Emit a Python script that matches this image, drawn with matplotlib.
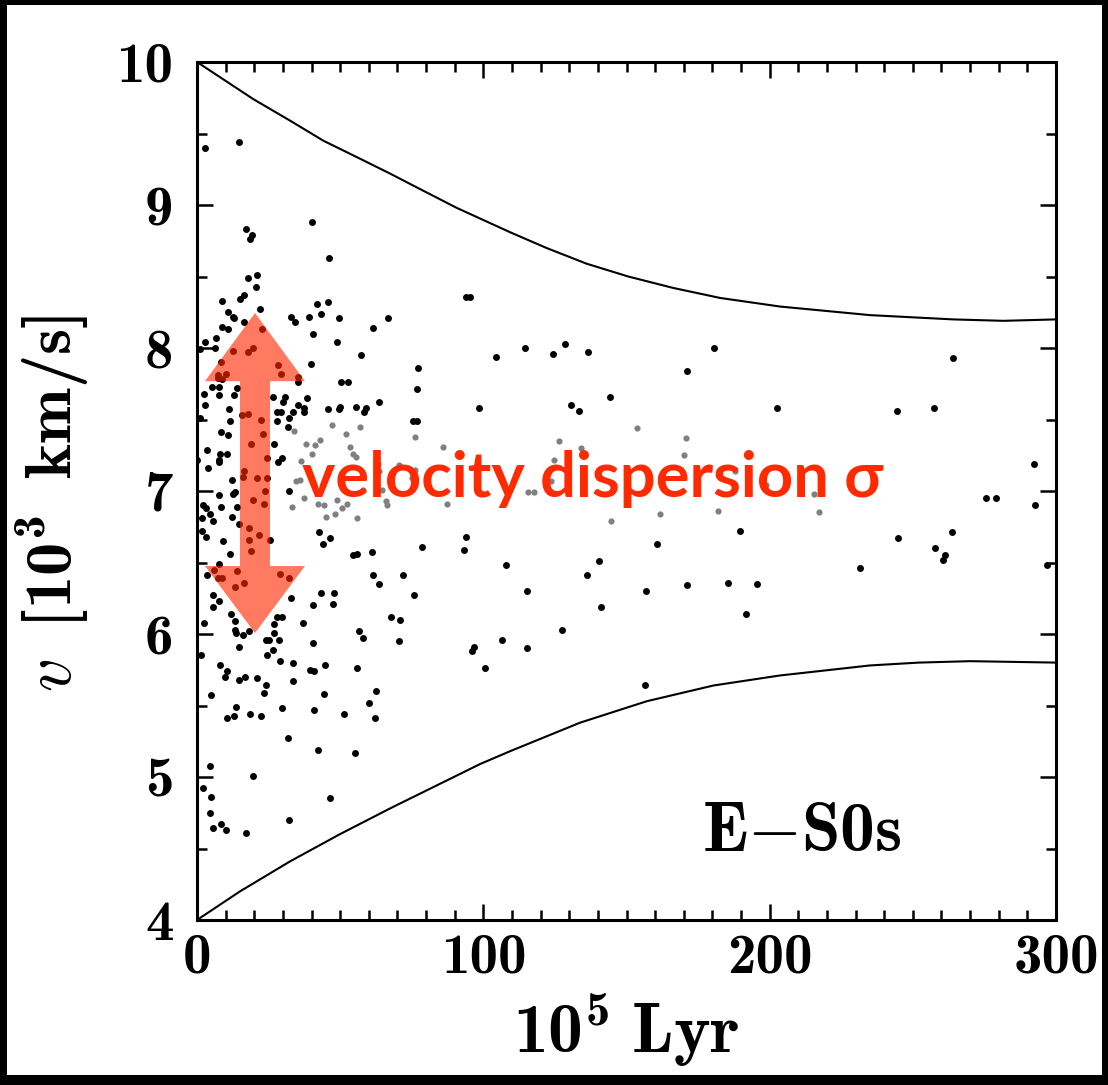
import matplotlib
matplotlib.use("Agg")
import matplotlib.pyplot as plt
from matplotlib.patches import Polygon, Rectangle
from matplotlib.ticker import MultipleLocator, FixedFormatter, FixedLocator

plt.rcParams['font.family'] = 'cmb10'
plt.rcParams['mathtext.fontset'] = 'custom'
plt.rcParams['mathtext.rm'] = 'cmb10'
plt.rcParams['mathtext.bf'] = 'cmb10'
plt.rcParams['mathtext.it'] = 'cmmi10'
plt.rcParams['mathtext.fallback'] = 'cm'
plt.rcParams['axes.unicode_minus'] = False

# ---------------- data ----------------
upper_x = [0, 19.7, 32.5, 44.1, 55.8, 67.4, 79.0, 90.7, 109.3, 122, 136, 150.6, 166.3,
           182.7, 203.6, 235, 254.3, 264.1, 281.6, 300]
upper_v = [10.0, 9.74, 9.59, 9.45, 9.335, 9.22, 9.10, 8.98, 8.81, 8.70, 8.59, 8.50, 8.42,
           8.35, 8.29, 8.23, 8.21, 8.20, 8.19, 8.20]

lower_x = [0, 15.0, 32.5, 49.9, 67.4, 90.7, 98.8, 109.3, 133.8, 157.1, 180.4, 203.6,
           235, 252, 270, 300]
lower_v = [4.0, 4.20, 4.41, 4.60, 4.78, 5.01, 5.09, 5.18, 5.38, 5.53, 5.64, 5.71,
           5.78, 5.80, 5.81, 5.80]

black_x = [2.7, 14.7, 40.0, 17.0, 19.1, 18.6, 46.1, 17.8, 21.1, 20.7, 16.5, 15.0, 8.7, 22.0,
           10.7, 12.5, 13.0, 8.7, 10.8, 16.3, 22.6, 2.9, 6.5, 6.3, 1.0, 12.5, 17.9, 19.7, 8.4,
           28.2, 29.2, 35.4, 35.4, 10.0, 7.5, 7.2, 8.6, 5.2, 7.8, 2.4, 7.7, 13.0, 13.9, 2.8,
           11.1, 11.5, 1.0, 15.8, 17.9, 22.4, 26.4, 30.7, 30.2, 35.2, 37.3, 37.3, 38.4, 28.1,
           29.2, 33.7, 32.0, 28.1, 31.8, 32.7, 34.3, 39.1, 41.8, 43.3, 45.8, 49.5, 40.4, 48.8,
           61.5, 66.6, 57.3, 39.8, 50.4, 52.7, 77.3, 76.8, 63.5, 45.8, 49.8, 49.6, 55.4, 59.0,
           58.4, 75.3, 76.7, 94.0, 95.3, 104.5, 98.4,
           8.4, 10.7, 23.1, 18.7, 26.8, 3.4, 8.0, 10.5, 7.8, 7.8, 0.0, 3.7, 24.3, 28.2, 29.6,
           12.2, 16.4, 16.2, 20.8, 24.4, 23.7, 13.3, 12.7, 7.8, 32.2, 19.7, 23.4, 2.2, 3.1,
           8.4, 13.9, 4.5, 1.6, 5.7, 12.2, 14.8, 18.0, 21.5, 18.0, 19.0, 25.5, 1.6, 3.0, 9.2,
           11.6, 7.8, 5.9, 7.5, 8.6, 3.6, 14.0, 16.5, 13.2, 29.0, 32.1, 5.6, 7.7, 5.7, 11.9,
           13.2, 13.3, 13.5, 16.0, 18.3, 2.4, 14.6, 1.5, 26.9, 28.0, 29.8, 27.0, 24.1, 25.1,
           28.6, 26.4, 24.4, 33.0, 36.9, 40.4, 43.3, 47.7, 40.6, 47.4,
           42.7, 43.9, 46.4, 54.6, 56.0, 61.2, 61.4, 63.7, 72.1, 75.7, 78.5, 93.9, 93.2, 107.9,
           67.9, 70.9, 70.7, 56.7, 57.9, 95.9, 96.7, 106.4, 100.6, 62.5, 44.5, 44.6, 55.9,
           33.6, 33.6, 29.0, 39.5, 41.0, 23.4, 24.2, 4.9, 8.1, 10.6, 9.8, 14.8, 16.8, 21.1,
           13.6, 10.6, 13.0, 18.5, 22.4, 29.6, 40.8, 51.2, 60.0, 62.1, 31.7, 42.4, 55.1, 4.7,
           19.7, 2.2, 4.9, 46.4, 4.7, 8.3, 5.6, 10.0, 17.0, 32.2,
           114.6, 124.3, 128.6, 136.7, 180.6, 171.0, 144.1, 130.5, 133.3, 202.4, 189.8, 160.7,
           140.4, 136.2, 115.2, 156.7, 171.0, 185.3, 195.5, 141.0, 191.7, 127.4,
           264.0, 244.5, 257.4, 292.4, 275.6, 279.0, 292.6, 263.6, 244.8, 257.6, 261.2, 260.4,
           231.7, 297.0, 115.2, 156.3]
black_v = [9.40, 9.44, 8.88, 8.83, 8.79, 8.76, 8.63, 8.49, 8.51, 8.43, 8.37, 8.34, 8.33, 8.27,
           8.25, 8.22, 8.21, 8.15, 8.13, 8.18, 8.13, 8.04, 8.07, 8.00, 7.99, 7.98, 7.97, 8.00, 7.90,
           7.88, 7.82, 7.80, 7.76, 7.82, 7.81, 7.79, 7.78, 7.73, 7.73, 7.68, 7.67, 7.67, 7.72, 7.60,
           7.57, 7.49, 7.51, 7.53, 7.54, 7.50, 7.66, 7.66, 7.62, 7.60, 7.58, 7.55, 7.65, 7.55,
           7.55, 7.55, 7.51, 7.49, 7.45, 8.22, 8.18, 8.22, 8.31, 8.24, 8.32, 8.21, 8.10, 8.04,
           8.14, 8.21, 7.95, 7.89, 7.76, 7.76, 7.86, 7.71, 7.62, 7.57, 7.59, 7.57, 7.59, 7.58,
           7.55, 7.49, 7.49, 8.36, 8.36, 7.94, 7.58,
           7.41, 7.39, 7.40, 7.33, 7.33, 7.29, 7.26, 7.26, 7.22, 7.20, 7.22, 7.16, 7.23, 7.20, 7.23,
           7.08, 7.14, 7.10, 7.09, 7.09, 7.00, 6.99, 6.98, 6.97, 7.00, 6.94, 6.91, 6.90, 6.88,
           6.89, 6.89, 6.84, 6.81, 6.79, 6.82, 6.77, 6.74, 6.69, 6.66, 6.58, 6.66, 6.72, 6.68, 6.65,
           6.56, 6.49, 6.45, 6.39, 6.39, 6.41, 6.44, 6.36, 6.33, 6.42, 6.39, 6.27, 6.23, 6.19, 6.14,
           6.09, 6.03, 6.01, 5.99, 6.02, 6.08, 5.91, 5.85, 6.07, 6.12, 6.12, 6.01, 5.96, 5.96,
           5.96, 5.89, 5.85, 6.25, 6.08, 5.94, 6.29, 6.29, 6.20, 6.21,
           6.71, 6.63, 6.67, 6.55, 6.56, 6.57, 6.41, 6.35, 6.41, 6.27, 6.61, 6.68, 6.59, 6.48,
           6.12, 6.10, 5.95, 6.02, 5.97, 5.88, 5.91, 5.96, 5.76, 5.60, 5.58, 5.78, 5.76,
           5.67, 5.80, 5.81, 5.75, 5.74, 5.59, 5.64, 5.57, 5.78, 5.74, 5.70, 5.68, 5.70, 5.69,
           5.49, 5.41, 5.43, 5.44, 5.43, 5.48, 5.47, 5.44, 5.52, 5.41, 5.27, 5.19, 5.17, 5.08,
           5.01, 4.92, 4.86, 4.85, 4.75, 4.67, 4.64, 4.63, 4.61, 4.70,
           8.00, 7.96, 8.03, 7.97, 8.00, 7.84, 7.66, 7.60, 7.56, 7.58, 6.72, 6.63,
           6.51, 6.41, 6.30, 6.30, 6.34, 6.36, 6.35, 6.19, 6.14, 6.03,
           7.93, 7.56, 7.58, 7.19, 6.95, 6.95, 6.90, 6.71, 6.67, 6.60, 6.55, 6.52,
           6.46, 6.48, 5.90, 5.64]

gray_x = [47.0, 57.0, 33.8, 38.2, 41.1, 42.8, 52.2, 53.3, 54.4, 55.4, 40.0, 36.2, 34.6, 36.0,
          37.3, 33.2, 42.3, 44.2, 45.0, 48.2, 48.9, 50.6, 52.3, 55.9, 57.9, 63.1, 63.6, 64.6,
          66.0, 66.2, 70.5, 75.0, 76.2, 76.2, 86.0, 87.3,
          153.8, 126.4, 170.7, 134.1, 170.1, 124.7, 123.6, 115.5, 117.8, 157.4, 140.5, 187.9,
          198.6, 144.6, 161.6, 182.1, 215.6, 217.2]
gray_v = [7.46, 7.45, 7.42, 7.33, 7.32, 7.36, 7.40, 7.31, 7.26, 7.24, 7.26, 7.21, 7.07, 7.08,
          6.95, 6.89, 6.91, 6.90, 6.82, 6.84, 6.94, 6.88, 6.91, 6.81, 7.01, 7.19, 7.14, 7.01,
          6.93, 6.90, 7.18, 7.09, 7.15, 7.38, 7.31, 6.91,
          7.44, 7.35, 7.37, 7.30, 7.25, 7.22, 7.07, 6.99, 6.99, 7.13, 7.09, 7.14,
          7.04, 6.79, 6.84, 6.86, 6.98, 6.85]

x_ticks = [0, 100, 200, 300]
x_tick_labels = ['0', '100', '200', '300']
y_ticks = [4, 5, 6, 7, 8, 9, 10]
y_tick_labels = ['4', '5', '6', '7', '8', '9', '10']

# ---------------- figure ----------------
W, H = 1108, 1085
fig = plt.figure(figsize=(W / 100, H / 100), dpi=100)
fig.patch.set_facecolor('white')
ax = fig.add_axes([197 / W, 1 - 920 / H, 859 / W, 858 / H])

ax.plot(upper_x, upper_v, color='black', lw=1.5, zorder=2, solid_joinstyle='round')
ax.plot(lower_x, lower_v, color='black', lw=1.5, zorder=2, solid_joinstyle='round')
ax.scatter(gray_x, gray_v, s=20, color='#808080', linewidths=0, zorder=3)
ax.scatter(black_x, black_v, s=25, color='black', linewidths=0, zorder=3)

ax.set_xlim(0, 300)
ax.set_ylim(4, 10)

ax.xaxis.set_major_locator(FixedLocator(x_ticks))
ax.xaxis.set_major_formatter(FixedFormatter(x_tick_labels))
ax.yaxis.set_major_locator(FixedLocator(y_ticks))
ax.yaxis.set_major_formatter(FixedFormatter(y_tick_labels))
ax.xaxis.set_minor_locator(MultipleLocator(10))
ax.yaxis.set_minor_locator(MultipleLocator(0.5))

ax.tick_params(which='both', direction='in', top=True, right=True, width=1.8, colors='black')
ax.tick_params(which='major', length=11.5)
ax.tick_params(which='minor', length=7.2)
ax.tick_params(axis='y', which='major', pad=17, labelsize=41)
ax.tick_params(axis='x', which='major', pad=10, labelsize=41)
for sp in ax.spines.values():
    sp.set_linewidth(2.2)

ax.set_xlabel(r'$\mathbf{10^{5}\;Lyr}$', fontsize=50)
ax.xaxis.label.set_va('baseline')
ax.xaxis.set_label_coords(0.5, (920 - 1053) / 858)
ax.set_ylabel(r'$\mathit{v}\;\;\mathbf{[10^{3}\;\;km/s]}$', fontsize=48)
ax.yaxis.label.set_va('center')
ax.yaxis.set_label_coords((52 - 197) / 859, 0.4854)

# double-headed arrow (axes coordinates)
cx = 0.0675
hw, sw = 0.0582, 0.0175
ytop, ytb, ybb, ybot = 0.7075, 0.628, 0.4126, 0.3345
arrow = Polygon([(cx, ytop), (cx + hw, ytb), (cx + sw, ytb), (cx + sw, ybb),
                 (cx + hw, ybb), (cx, ybot), (cx - hw, ybb), (cx - sw, ybb),
                 (cx - sw, ytb), (cx - hw, ytb)], closed=True,
                transform=ax.transAxes, facecolor='#FF2800', alpha=0.62,
                edgecolor='none', zorder=4)
ax.add_patch(arrow)

ax.text(0.1222, 0.493, 'velocity dispersion σ', transform=ax.transAxes,
        fontsize=45.5, fontweight='bold', color='#FF2A00', family=['Lato', 'DejaVu Sans'],
        ha='left', va='baseline', zorder=5)

ax.text(0.588, 0.080, r'$\mathbf{E}{-}\mathbf{S0s}$', transform=ax.transAxes,
        fontsize=50, ha='left', va='baseline', zorder=5)

# black frame around the image
for (x0, y0, w, h) in [(0, 0, 7, H), (W - 6, 0, 6, H), (0, 0, W, 10), (0, H - 5, W, 5)]:
    fig.add_artist(Rectangle((x0 / W, y0 / H), w / W, h / H, transform=fig.transFigure,
                             facecolor='black', edgecolor='none', zorder=10))

fig.savefig('out.png', dpi=100)
